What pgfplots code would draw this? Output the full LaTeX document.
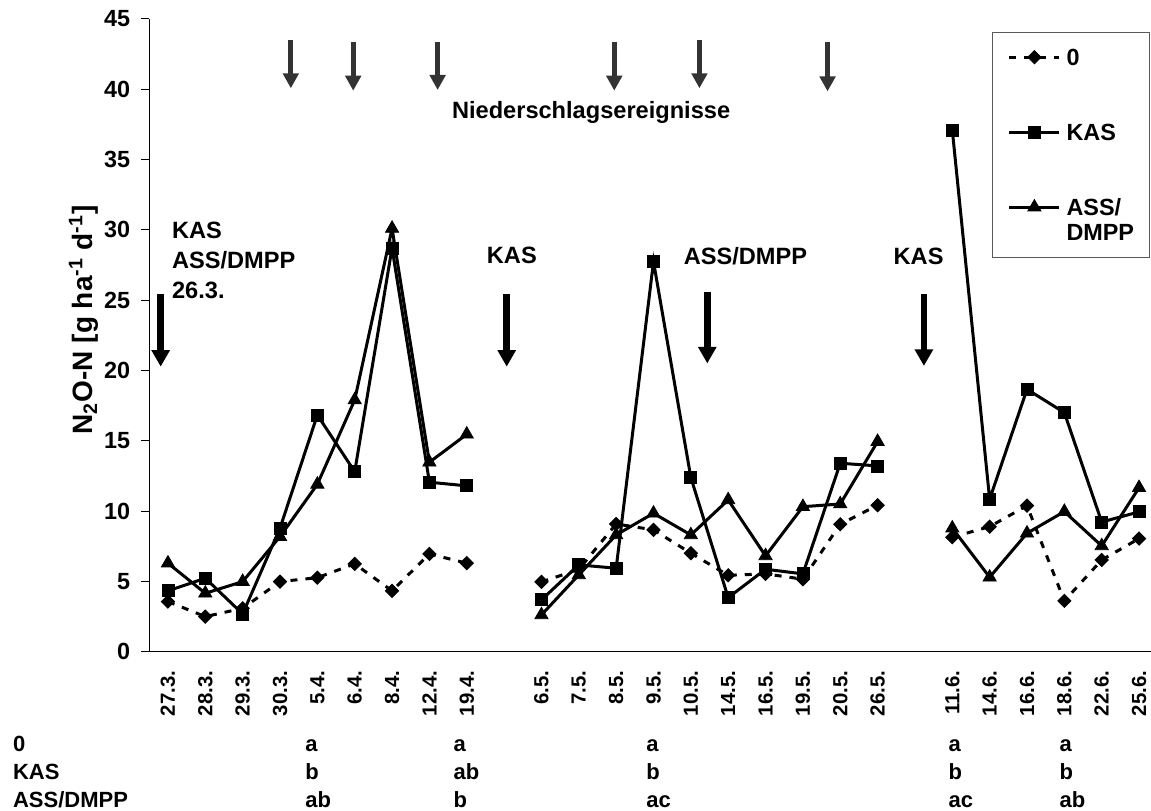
\documentclass[border=0pt]{standalone}
\usepackage{pgfplots}
\pgfplotsset{compat=1.18}
\usepackage{pgfplotstable}
\usepackage{fontspec}
\setmainfont{Liberation Sans}
\usetikzlibrary{arrows.meta}
\newcommand{\fa}{\bfseries\fontsize{11.8}{14}\selectfont}
\newcommand{\fl}{\bfseries\fontsize{11.7}{14}\selectfont}
\newcommand{\fb}{\bfseries\fontsize{11}{13}\selectfont}
\definecolor{raingray}{RGB}{51,51,51}
\pgfplotstableread{
x  zero  kas   ass
0  3.56  4.32  6.29
1  2.49  5.22  4.15
2  3.08  2.68  4.98
3  4.98  8.78  8.18
4  5.26  16.83 11.90
5  6.24  12.80 17.90
6  4.32  28.71 30.10
7  6.95  12.05 13.47
8  6.29  11.79 15.46
9  nan   nan   nan
10 4.96  3.68  2.61
11 5.85  6.17  5.46
12 9.08  5.93  8.30
13 8.66  27.74 9.84
14 7.00  12.38 8.30
15 5.43  3.84  10.79
16 5.53  5.86  6.81
17 5.15  5.53  10.31
18 9.06  13.40 10.50
19 10.41 13.21 14.94
20 nan   nan   nan
21 8.14  37.10 8.78
22 8.89  10.84 5.29
23 10.38 18.66 8.42
24 3.61  17.00 9.96
25 6.52  9.22  7.52
26 8.04  9.94  11.66
}\datatable
\tikzset{
  rain/.style={raingray, line width=2.5pt, -{Triangle[width=7.7pt,length=7.5pt]}},
  fert/.style={black, line width=3.3pt, -{Triangle[width=8.8pt,length=8.3pt]}},
  lab/.style={anchor=base west, inner sep=0pt, font=\fa},
  sig/.style={anchor=base west, inner sep=0pt, font=\fb},
}
\begin{document}
\begin{tikzpicture}
\begin{axis}[
  scale only axis, width=500.9pt, height=316.35pt,
  xmin=-0.5, xmax=26.32, ymin=0, ymax=45,
  axis lines*=left,
  axis line style={line width=0.5pt, black},
  clip=false,
  xtick=\empty,
  extra x ticks={0,...,26},
  extra x tick labels={27.3.,28.3.,29.3.,30.3.,5.4.,6.4.,8.4.,12.4.,19.4.,,6.5.,7.5.,8.5.,9.5.,10.5.,14.5.,16.5.,19.5.,20.5.,26.5.,,11.6.,14.6.,16.6.,18.6.,22.6.,25.6.},
  extra x tick style={major tick length=0pt, tick style={draw=none}},
  xticklabel shift=6pt,
  minor xtick={-0.5,0.5,...,25.5},
  minor tick length=3pt, major tick length=4pt, tick align=outside,
  tick style={black, line width=0.5pt},
  xticklabel style={rotate=90, anchor=east, font=\bfseries\fontsize{10.2}{12}\selectfont},
  ytick={0,5,...,45},
  yticklabel style={font=\fl, xshift=-2pt},
  /pgf/number format/assume math mode=true,
  unbounded coords=jump,
  legend cell align=left,
  legend style={at={(1,1)}, anchor=north east, xshift=-0.5pt, yshift=-6.35pt,
    draw=black!65, line width=0.5pt, inner xsep=7.7pt, inner ysep=8.3pt,
    row sep=4.1pt, column sep=2.8pt, font=\fl,
    nodes={inner sep=0pt, text height=8.4pt, text depth=0pt}},
  legend image code/.code={\draw[mark repeat=2,mark phase=2,#1] plot coordinates {(0pt,0pt) (12.5pt,0pt) (25pt,0pt)};},
]
\addplot[black, line width=1.5pt, dash pattern=on 3.5pt off 4pt, mark=square*, mark size=2.35pt, mark options={solid, rotate=45, line width=0.4pt}] table[x=x,y=zero]{\datatable};
\addlegendentry{0}
\addlegendimage{empty legend}\addlegendentry{\phantom{0}}
\addlegendimage{empty legend}\addlegendentry{\phantom{0}}
\addplot[black, line width=1.5pt, mark=square*, mark size=3.0pt, mark options={solid, line width=0.4pt}] table[x=x,y=kas]{\datatable};
\addlegendentry{KAS}
\addlegendimage{empty legend}\addlegendentry{\phantom{0}}
\addlegendimage{empty legend}\addlegendentry{\phantom{0}}
\addplot[black, line width=1.5pt, mark=triangle*, mark size=3.8pt, mark options={solid, line width=0.4pt}] table[x=x,y=ass]{\datatable};
\addlegendentry{ASS/}
\addlegendimage{empty legend}\addlegendentry{DMPP}

% rain arrows
\draw[rain] (axis cs:3.29,43.5) -- (axis cs:3.29,40.07);
\draw[rain] (axis cs:4.96,43.39) -- (axis cs:4.96,39.9);
\draw[rain] (axis cs:7.22,43.39) -- (axis cs:7.22,39.95);
\draw[rain] (axis cs:11.95,43.39) -- (axis cs:11.95,39.9);
\draw[rain] (axis cs:14.23,43.5) -- (axis cs:14.23,40.07);
\draw[rain] (axis cs:17.66,43.39) -- (axis cs:17.66,39.85);
% fertilisation arrows
\draw[fert] (axis cs:-0.195,25.44) -- (axis cs:-0.195,20.27);
\draw[fert] (axis cs:9.07,25.44) -- (axis cs:9.07,20.27);
\draw[fert] (axis cs:14.44,25.6) -- (axis cs:14.44,20.5);
\draw[fert] (axis cs:20.24,25.44) -- (axis cs:20.24,20.32);

\node[lab] at (axis cs:0.1,29.4) {KAS};
\node[lab] at (axis cs:0.1,27.27) {ASS/DMPP};
\node[lab] at (axis cs:0.1,25.13) {26.3.};
\node[lab] at (axis cs:8.53,27.62) {KAS};
\node[lab] at (axis cs:13.8,27.57) {ASS/DMPP};
\node[lab] at (axis cs:19.42,27.57) {KAS};
\node[lab] at (axis cs:7.596,37.94) {Niederschlagsereignisse};

% y label
\node[rotate=90, font=\bfseries\fontsize{14}{16}\selectfont] at (axis cs:-2.25,23.6) {N\textsubscript{2}O-N [g ha\textsuperscript{-1} d\textsuperscript{-1}]};

% significance rows
\node[sig] at (axis cs:-4.157,-7.11) {0};
\node[sig] at (axis cs:-4.157,-9.125) {KAS};
\node[sig] at (axis cs:-4.157,-11.07) {ASS/DMPP};
\node[sig] at (axis cs:3.67,-7.11) {a};
\node[sig] at (axis cs:3.67,-9.125) {b};
\node[sig] at (axis cs:3.67,-11.07) {ab};
\node[sig] at (axis cs:7.64,-7.11) {a};
\node[sig] at (axis cs:7.64,-9.125) {ab};
\node[sig] at (axis cs:7.64,-11.07) {b};
\node[sig] at (axis cs:12.80,-7.11) {a};
\node[sig] at (axis cs:12.80,-9.125) {b};
\node[sig] at (axis cs:12.80,-11.07) {ac};
\node[sig] at (axis cs:20.89,-7.11) {a};
\node[sig] at (axis cs:20.89,-9.125) {b};
\node[sig] at (axis cs:20.89,-11.07) {ac};
\node[sig] at (axis cs:23.86,-7.11) {a};
\node[sig] at (axis cs:23.86,-9.125) {b};
\node[sig] at (axis cs:23.86,-11.07) {ab};

\coordinate (bbA) at (axis cs:-4.497,46.35);
\coordinate (bbB) at (axis cs:26.32,-11.33);
\end{axis}
\pgfresetboundingbox
\path[use as bounding box] (bbA) rectangle (bbB);
\end{tikzpicture}
\end{document}
